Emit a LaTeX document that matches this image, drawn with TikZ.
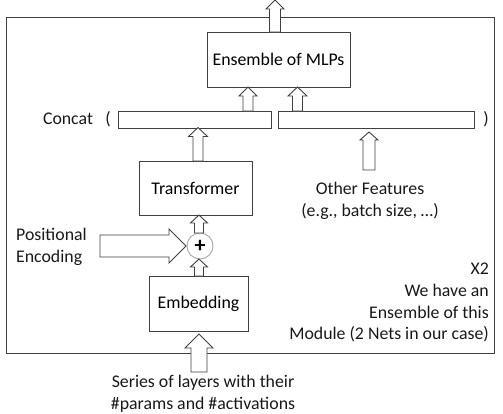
\documentclass[tikz,border=0pt]{standalone}
\usepackage{fontspec}
\setmainfont{Carlito}
\usetikzlibrary{calc}
\tikzset{
  ln/.style={draw=black!75, line width=0.9bp},
  boxnode/.style={ln, rectangle, inner sep=0pt, font=\fontsize{17.8bp}{21.7bp}\selectfont},
  lbl/.style={inner sep=0pt, font=\fontsize{17.8bp}{21.7bp}\selectfont, text=black!90},
  blk/.style={ln, fill=white, line join=miter},
}
% block arrow pointing up: #1 x, #2 y bottom, #3 y tip, #4 shaft half, #5 head half, #6 head length
\newcommand\blkup[6]{%
  \draw[blk] (#1-#4,#2) -- (#1-#4,#3+#6) -- (#1-#5,#3+#6) -- (#1,#3) -- (#1+#5,#3+#6) -- (#1+#4,#3+#6) -- (#1+#4,#2) -- cycle;}
\begin{document}
\begin{tikzpicture}[x=1bp,y=-1bp]
\useasboundingbox (0,0) rectangle (503,413);
% outer module box
\draw[ln] (6,17) rectangle (494,353);
% nodes
\node[boxnode, minimum width=143bp, minimum height=55bp] (ens) at (278.5,59.5) {Ensemble of MLPs};
\node[boxnode, minimum width=153bp, minimum height=17bp] (bar1) at (194.5,119.5) {};
\node[boxnode, minimum width=196bp, minimum height=17bp] (bar2) at (376,119.5) {};
\node[lbl] (concat) at (68,119) {Concat};
\node[lbl] (lpar) at (108,119) {(};
\node[lbl] (rpar) at (486,119) {)};
\node[boxnode, minimum width=113bp, minimum height=54bp] (trans) at (195.5,188) {Transformer};
\node[lbl, align=center] (other) at (370,201) {Other Features\\(e.g., batch size, \dots)};
\node[draw=black!35, line width=0.9bp, circle, minimum size=26bp, inner sep=0pt, font=\fontsize{22bp}{22bp}\selectfont\bfseries] (plus) at (200,246) {+};
\node[lbl, align=left, anchor=west] (pos) at (16,246.5) {Positional\\Encoding};
\node[boxnode, minimum width=99bp, minimum height=55bp] (emb) at (198.5,303.5) {Embedding};
\node[lbl, align=right, anchor=north east] (note) at (489,263) {X2\\We have an\\Ensemble of this\\Module (2 Nets in our case)};
\node[lbl, align=center] (input) at (203,394) {Series of layers with their\\\#params and \#activations};
% block arrows
\blkup{275}{32}{0}{5.5}{9}{9}
\blkup{248}{111}{87}{5}{9}{9}
\blkup{297.5}{111}{87}{5}{9.5}{9}
\blkup{198}{161}{127.5}{5}{9.5}{9}
\blkup{369}{170}{132}{6}{9}{8}
\blkup{199}{233}{215}{4.5}{8.5}{8}
\blkup{199}{276}{259}{4.5}{8.5}{8}
\blkup{199}{372}{334}{8}{14}{14}
% positional encoding arrow
\draw[blk] (100,235) -- (169,235) -- (169,229) -- (186,246) -- (169,263) -- (169,257) -- (100,257) -- cycle;
\end{tikzpicture}
\end{document}
